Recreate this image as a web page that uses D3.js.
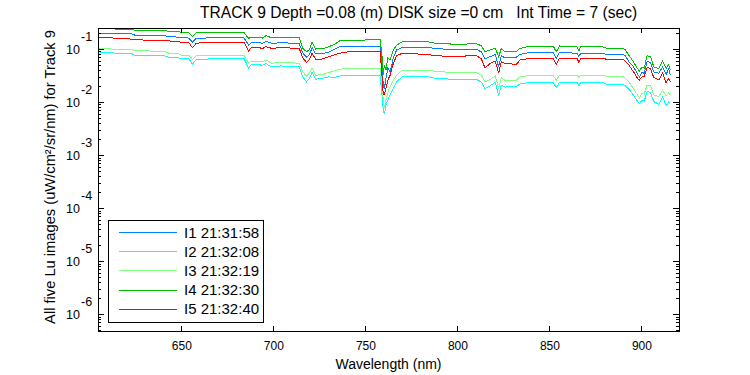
<!DOCTYPE html>
<html>
<head>
<meta charset="utf-8">
<script src="https://cdn.jsdelivr.net/npm/d3@7"></script>
<style>
  body { margin: 0; background: #fff; }
  svg { font-family: "Liberation Sans", Arial, sans-serif; }
  .axis path { display: none; }
  .axis line { stroke: #000; shape-rendering: crispEdges; }
</style>
</head>
<body>
<div id="chart"></div>
<script>
let height = 375,
    width = 750,
    margin = ({ top: 28, right: 71, bottom: 44, left: 98 });

// wavelength samples (nm)
const wavelength = [605, 612, 614, 623, 625, 632, 641, 643, 648, 650, 654, 656, 658, 662, 670, 684,
  686.5, 688, 692, 694, 696, 699, 704, 714, 716, 718, 719.5, 721, 723, 727, 730, 733, 736, 740,
  750, 758, 759, 759.7, 760.3, 761.2, 762.2, 763.4, 765.2, 767, 770, 784, 788, 797, 805, 810,
  813, 815, 818, 820.6, 822.4, 823.9, 825.7, 832, 834, 840, 852, 853.7, 855.5, 865, 866, 867,
  879, 881, 890, 891.3, 893.1, 895, 896.7, 897.8, 898.9, 900.3, 901.5, 903.1, 904.9, 906.7,
  909.4, 911.5, 913.4, 914.8, 915.7];

const lu1 = [0.200, 0.196, 0.192, 0.192, 0.181, 0.181, 0.180, 0.170, 0.168, 0.163, 0.161, 0.134, 0.158, 0.161, 0.163, 0.163,
  0.119, 0.131, 0.133, 0.127, 0.139, 0.128, 0.131, 0.128, 0.084, 0.070, 0.077, 0.106, 0.081, 0.082, 0.087, 0.098, 0.110, 0.112,
  0.114, 0.114, 0.057, 0.021, 0.018, 0.028, 0.044, 0.037, 0.068, 0.096, 0.108, 0.108, 0.101, 0.099, 0.096, 0.100,
  0.088, 0.066, 0.072, 0.079, 0.046, 0.075, 0.068, 0.070, 0.079, 0.087, 0.087, 0.066, 0.087, 0.083, 0.072, 0.083,
  0.083, 0.079, 0.079, 0.074, 0.058, 0.050, 0.040, 0.034, 0.030, 0.036, 0.035, 0.058, 0.056, 0.037,
  0.035, 0.046, 0.033, 0.043, 0.032];

const lu2 = [0.088, 0.086, 0.083, 0.082, 0.075, 0.075, 0.074, 0.070, 0.069, 0.066, 0.066, 0.052, 0.062, 0.064, 0.067, 0.067,
  0.044, 0.051, 0.051, 0.049, 0.053, 0.046, 0.048, 0.046, 0.0296, 0.024, 0.028, 0.036, 0.027, 0.028, 0.030, 0.029, 0.031, 0.032,
  0.032, 0.032, 0.0136, 0.0071, 0.0059, 0.0088, 0.0109, 0.0136, 0.0184, 0.024, 0.030, 0.030, 0.028, 0.027, 0.027, 0.027,
  0.0239, 0.0181, 0.0205, 0.0236, 0.0132, 0.0209, 0.0192, 0.0195, 0.0219, 0.0236, 0.0236, 0.0187, 0.0236, 0.0236, 0.0203, 0.0236,
  0.0236, 0.0216, 0.0216, 0.0201, 0.0176, 0.0146, 0.0117, 0.0105, 0.0094, 0.0109, 0.0105, 0.0157, 0.0152, 0.0102,
  0.0091, 0.0126, 0.0086, 0.0100, 0.0094];

const lu3 = [0.102, 0.100, 0.098, 0.098, 0.092, 0.092, 0.090, 0.084, 0.082, 0.077, 0.077, 0.064, 0.074, 0.075, 0.077, 0.077,
  0.054, 0.059, 0.059, 0.057, 0.062, 0.054, 0.056, 0.054, 0.037, 0.031, 0.035, 0.043, 0.032, 0.033, 0.036, 0.0385, 0.0415, 0.043,
  0.043, 0.043, 0.021, 0.0109, 0.0077, 0.0109, 0.0155, 0.0195, 0.026, 0.032, 0.040, 0.040, 0.038, 0.036, 0.036, 0.036,
  0.032, 0.024, 0.027, 0.031, 0.018, 0.029, 0.026, 0.026, 0.030, 0.032, 0.032, 0.026, 0.032, 0.032, 0.029, 0.032,
  0.032, 0.030, 0.030, 0.028, 0.024, 0.0195, 0.0157, 0.0136, 0.0121, 0.0146, 0.0142, 0.021, 0.0205, 0.0136,
  0.0126, 0.0169, 0.0130, 0.0148, 0.0136];

const lu4 = [0.249, 0.243, 0.238, 0.233, 0.225, 0.225, 0.223, 0.216, 0.214, 0.206, 0.205, 0.171, 0.200, 0.209, 0.206, 0.206,
  0.159, 0.166, 0.168, 0.161, 0.178, 0.163, 0.168, 0.163, 0.103, 0.089, 0.096, 0.134, 0.100, 0.102, 0.110, 0.122, 0.142, 0.145,
  0.148, 0.148, 0.077, 0.032, 0.050, 0.040, 0.068, 0.062, 0.096, 0.119, 0.137, 0.137, 0.128, 0.124, 0.124, 0.128,
  0.115, 0.089, 0.096, 0.103, 0.072, 0.103, 0.089, 0.089, 0.103, 0.114, 0.114, 0.089, 0.114, 0.110, 0.093, 0.110,
  0.110, 0.103, 0.103, 0.096, 0.077, 0.062, 0.050, 0.043, 0.038, 0.046, 0.044, 0.075, 0.072, 0.046,
  0.043, 0.059, 0.043, 0.051, 0.040];

const lu5 = [0.168, 0.165, 0.158, 0.154, 0.151, 0.146, 0.146, 0.142, 0.139, 0.134, 0.133, 0.106, 0.127, 0.134, 0.134, 0.134,
  0.092, 0.106, 0.107, 0.102, 0.111, 0.103, 0.106, 0.103, 0.068, 0.056, 0.062, 0.083, 0.064, 0.065, 0.072, 0.077, 0.083, 0.088,
  0.089, 0.089, 0.032, 0.0136, 0.0136, 0.0184, 0.026, 0.032, 0.054, 0.075, 0.083, 0.079, 0.075, 0.072, 0.074, 0.077,
  0.065, 0.044, 0.054, 0.059, 0.035, 0.058, 0.054, 0.051, 0.062, 0.067, 0.067, 0.051, 0.067, 0.067, 0.056, 0.067,
  0.067, 0.064, 0.064, 0.059, 0.050, 0.040, 0.033, 0.028, 0.026, 0.030, 0.030, 0.045, 0.043, 0.029,
  0.026, 0.035, 0.023, 0.028, 0.024];

const seriesNames = ["I1 21:31:58", "I2 21:32:08", "I3 21:32:19", "I4 21:32:30", "I5 21:32:40"];
const seriesValues = [lu1, lu2, lu3, lu4, lu5];
const colors = ["#0080ff", "#00ffff", "#80ff80", "#00c000", "#ff0000"];

const xTicks = [650, 700, 750, 800, 850, 900];
const yTicks = [1e-6, 1e-5, 1e-4, 1e-3, 1e-2, 1e-1];
const yExponents = ["-6", "-5", "-4", "-3", "-2", "-1"];

const svg = d3.select("#chart")
  .append("svg")
  .attr("width", width)
  .attr("height", height);

let x = d3.scaleLinear()
  .domain([604.7, 920.4])
  .range([margin.left, width - margin.right]);

let y = d3.scaleLog()
  .domain([4.84e-7, 0.249])
  .range([height - margin.bottom, margin.top]);

// minor log ticks 2..9 in each decade inside the domain
let minorTicks = [];
for (let k = -7; k <= -1; k++) {
  for (let m = 2; m <= 9; m++) {
    let v = m * Math.pow(10, k);
    if (v > y.domain()[0] && v < y.domain()[1]) minorTicks.push(v);
  }
}

let plotBottom = height - margin.bottom,
    plotRight = width - margin.right;

// data lines, I1 first so I5 ends on top
let line = d3.line()
  .x((d, i) => x(wavelength[i]))
  .y(d => y(d));

seriesValues.forEach((vals, i) => {
  svg.append("path")
    .datum(vals)
    .attr("fill", "none")
    .attr("stroke", colors[i])
    .attr("stroke-width", 1)
    .attr("shape-rendering", "crispEdges")
    .attr("d", line);
});

// ticks (inward, Matlab style)
svg.append("g").attr("class", "axis")
  .attr("transform", `translate(0,${plotBottom})`)
  .call(d3.axisBottom(x).tickValues(xTicks).tickSize(-5).tickPadding(10))
  .call(g => g.selectAll("text").attr("font-size", 12).attr("fill", "#000").attr("font-family", null));

svg.append("g").attr("class", "axis")
  .attr("transform", `translate(0,${margin.top})`)
  .call(d3.axisTop(x).tickValues(xTicks).tickSize(-5).tickFormat(""));

for (let side of ["left", "right"]) {
  let ax = side === "left" ? d3.axisLeft : d3.axisRight;
  let tx = side === "left" ? margin.left : plotRight;
  svg.append("g").attr("class", "axis")
    .attr("transform", `translate(${tx},0)`)
    .call(ax(y).tickValues(yTicks).tickSize(-6).tickFormat(""));
  svg.append("g").attr("class", "axis")
    .attr("transform", `translate(${tx},0)`)
    .call(ax(y).tickValues(minorTicks).tickSize(-3).tickFormat(""));
}

// y tick labels 10^k
yTicks.forEach((t, i) => {
  svg.append("text")
    .attr("x", margin.left - 18)
    .attr("y", y(t) + 4.5)
    .attr("text-anchor", "end")
    .attr("font-size", 12.5)
    .text("10");
  svg.append("text")
    .attr("x", margin.left - 17)
    .attr("y", y(t) - 8)
    .attr("font-size", 12.5)
    .text(yExponents[i]);
});

// box
svg.append("rect")
  .attr("x", margin.left)
  .attr("y", margin.top)
  .attr("width", plotRight - margin.left)
  .attr("height", plotBottom - margin.top)
  .attr("fill", "none")
  .attr("stroke", "#000")
  .attr("shape-rendering", "crispEdges");

// title and axis labels
svg.append("text")
  .attr("x", 200)
  .attr("y", 18)
  .attr("font-size", 15.6)
  .style("white-space", "pre")
  .text("TRACK 9 Depth =0.08 (m) DISK size =0 cm   Int Time = 7 (sec)");

svg.append("text")
  .attr("x", (margin.left + plotRight) / 2)
  .attr("y", 369)
  .attr("text-anchor", "middle")
  .attr("font-size", 14)
  .text("Wavelength (nm)");

svg.append("text")
  .attr("transform", `translate(55,177) rotate(-90)`)
  .attr("text-anchor", "middle")
  .attr("font-size", 14.7)
  .text("All five Lu images (uW/cm²/sr/nm) for Track 9");

// legend
let legend = svg.append("g").attr("transform", "translate(108,220)");
legend.append("rect")
  .attr("width", 155)
  .attr("height", 102)
  .attr("fill", "#fff")
  .attr("stroke", "#000")
  .attr("shape-rendering", "crispEdges");

seriesNames.forEach((name, i) => {
  let ly = 12.5 + i * 19.2;
  legend.append("line")
    .attr("x1", 11).attr("x2", 69)
    .attr("y1", ly).attr("y2", ly)
    .attr("stroke", colors[i])
    .attr("shape-rendering", "crispEdges");
  legend.append("text")
    .attr("x", 76)
    .attr("y", ly + 5)
    .attr("font-size", 15)
    .text(name);
});
</script>
</body>
</html>
